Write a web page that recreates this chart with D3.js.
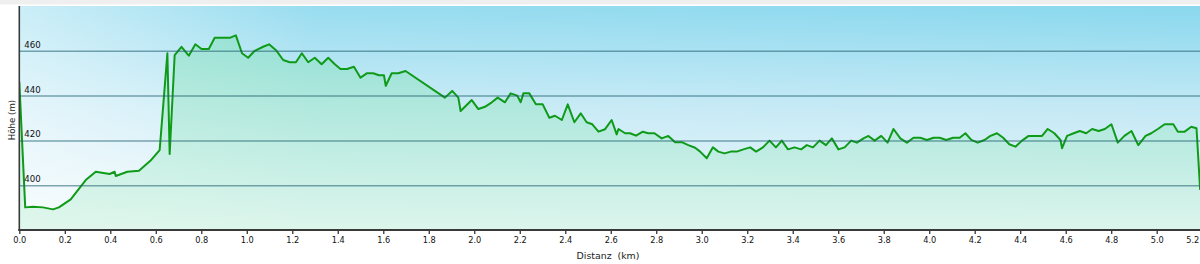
<!DOCTYPE html>
<html>
<head>
<meta charset="utf-8">
<script src="https://cdn.jsdelivr.net/npm/d3@7/dist/d3.min.js"></script>
<style>
  html, body { margin: 0; padding: 0; background: #ffffff; }
  svg { display: block; font-family: "DejaVu Sans", Verdana, sans-serif; }
</style>
</head>
<body>
<svg id="chart" width="1200" height="264"></svg>
<script>
// Distance along the route (km)
const distanceKm = [
  0.000, 0.026, 0.060, 0.104, 0.148, 0.174, 0.226, 0.292, 0.336, 0.397,
  0.419, 0.424, 0.475, 0.526, 0.576, 0.617, 0.651, 0.661, 0.683, 0.713,
  0.745, 0.774, 0.801, 0.833, 0.859, 0.925, 0.952, 0.979, 1.006, 1.035,
  1.072, 1.098, 1.131, 1.160, 1.189, 1.216, 1.242, 1.270, 1.299, 1.329,
  1.358, 1.387, 1.412, 1.441, 1.471, 1.500, 1.529, 1.556, 1.581, 1.603,
  1.611, 1.637, 1.666, 1.698, 1.871, 1.903, 1.930, 1.940, 1.989, 2.018,
  2.047, 2.077, 2.103, 2.135, 2.160, 2.189, 2.204, 2.216, 2.242, 2.271,
  2.301, 2.330, 2.355, 2.385, 2.411, 2.440, 2.468, 2.494, 2.519, 2.546,
  2.575, 2.604, 2.626, 2.634, 2.663, 2.685, 2.711, 2.741, 2.765, 2.792,
  2.824, 2.853, 2.883, 2.912, 2.941, 2.971, 2.993, 3.022, 3.049, 3.073,
  3.100, 3.128, 3.154, 3.183, 3.213, 3.239, 3.269, 3.298, 3.326, 3.352,
  3.379, 3.408, 3.437, 3.462, 3.489, 3.518, 3.546, 3.572, 3.601, 3.628,
  3.657, 3.682, 3.711, 3.733, 3.760, 3.789, 3.817, 3.843, 3.873, 3.902,
  3.931, 3.961, 3.990, 4.019, 4.046, 4.075, 4.105, 4.134, 4.159, 4.185,
  4.213, 4.243, 4.269, 4.298, 4.325, 4.352, 4.379, 4.408, 4.437, 4.467,
  4.496, 4.521, 4.550, 4.577, 4.584, 4.606, 4.635, 4.662, 4.690, 4.716,
  4.745, 4.772, 4.801, 4.829, 4.858, 4.889, 4.919, 4.951, 4.976, 5.005,
  5.035, 5.073, 5.093, 5.123, 5.152, 5.175, 5.191
];

// Elevation (m)
const elevationM = [
  446.2, 390.1, 390.4, 390.1, 389.2, 390.1, 393.7, 402.3, 406.0, 405.0,
  406.0, 404.1, 406.0, 406.5, 410.9, 415.7, 458.9, 413.9, 458.1, 461.8,
  457.8, 462.9, 460.8, 460.8, 465.8, 465.8, 466.9, 458.9, 456.9, 460.0,
  461.8, 462.9, 460.0, 455.9, 454.9, 454.9, 458.9, 454.9, 456.9, 454.0,
  456.9, 454.0, 451.9, 451.9, 452.9, 448.0, 450.0, 450.0, 449.1, 449.1,
  444.4, 450.0, 450.0, 451.0, 439.1, 442.1, 439.1, 433.1, 438.0, 434.0,
  435.0, 437.0, 439.1, 437.0, 441.0, 440.0, 437.0, 441.0, 441.0, 436.1,
  436.1, 430.1, 431.0, 429.1, 436.1, 428.1, 432.1, 428.1, 427.2, 423.9,
  425.0, 429.1, 422.7, 425.1, 423.2, 423.2, 422.1, 423.9, 423.2, 423.2,
  420.9, 422.0, 419.2, 419.2, 417.9, 416.7, 415.0, 412.0, 416.9, 415.0,
  414.2, 415.0, 415.0, 416.0, 416.9, 415.0, 416.9, 419.9, 416.9, 419.9,
  416.0, 416.9, 416.0, 417.9, 416.9, 419.9, 417.9, 420.9, 416.0, 416.9,
  419.9, 419.0, 420.9, 422.0, 419.9, 422.0, 419.0, 425.1, 420.9, 419.0,
  421.2, 421.2, 420.2, 421.2, 421.2, 420.2, 421.2, 421.2, 423.2, 420.2,
  419.0, 420.2, 422.0, 423.2, 421.2, 418.3, 417.2, 419.9, 422.0, 422.0,
  422.0, 425.1, 423.2, 420.2, 416.5, 422.0, 423.2, 424.2, 423.2, 425.1,
  424.2, 425.1, 427.2, 419.0, 422.0, 424.2, 417.9, 422.0, 423.2, 425.1,
  427.2, 427.2, 423.9, 423.9, 426.1, 425.4, 397.9
];

const xTickValues = [0.0, 0.2, 0.4, 0.6, 0.8, 1.0, 1.2, 1.4, 1.6, 1.8, 2.0, 2.2, 2.4,
                     2.6, 2.8, 3.0, 3.2, 3.4, 3.6, 3.8, 4.0, 4.2, 4.4, 4.6, 4.8, 5.0, 5.2];
const yTickValues = [400, 420, 440, 460];
const xTitle = "Distanz  (km)";
const yTitle = "Höhe (m)";

const points = distanceKm.map((d, i) => ({ km: d, m: elevationM[i] }));

const W = 1200, H = 264;
const plotLeft = 19.3, plotTop = 6, plotBottom = 230, plotRight = 1200;

const x = d3.scaleLinear().domain([0, 5.2]).range([19.3, 1202.2]);
const y = d3.scaleLinear().domain([380, 480]).range([plotBottom, plotTop]);

const svg = d3.select("#chart");
const defs = svg.append("defs");

// background gradients
const bg = defs.append("linearGradient").attr("id", "bgGrad")
  .attr("x1", 0).attr("y1", 0).attr("x2", 0).attr("y2", 1);
bg.append("stop").attr("offset", "0%").attr("stop-color", "#8ad8ee");
bg.append("stop").attr("offset", "45%").attr("stop-color", "#c3e9f5");
bg.append("stop").attr("offset", "100%").attr("stop-color", "#f3fafd");

const wl = defs.append("linearGradient").attr("id", "whiteLeft")
  .attr("x1", 0).attr("y1", 0).attr("x2", 1).attr("y2", 0);
wl.append("stop").attr("offset", "0%").attr("stop-color", "#ffffff").attr("stop-opacity", 0.55);
wl.append("stop").attr("offset", "25%").attr("stop-color", "#ffffff").attr("stop-opacity", 0.12);
wl.append("stop").attr("offset", "100%").attr("stop-color", "#ffffff").attr("stop-opacity", 0);

const ag = defs.append("linearGradient").attr("id", "areaGrad")
  .attr("gradientUnits", "userSpaceOnUse")
  .attr("x1", 0).attr("y1", plotTop).attr("x2", 0).attr("y2", plotBottom);
ag.append("stop").attr("offset", "0%").attr("stop-color", "#6ddca6").attr("stop-opacity", 0.42);
ag.append("stop").attr("offset", "100%").attr("stop-color", "#a6eac4").attr("stop-opacity", 0.3);

defs.append("clipPath").attr("id", "plotClip")
  .append("rect").attr("x", plotLeft).attr("y", plotTop)
  .attr("width", plotRight - plotLeft).attr("height", plotBottom - plotTop);

// top strip
svg.append("rect").attr("x", 0).attr("y", 0).attr("width", W).attr("height", 4.5)
  .attr("fill", "#efefef");

// plot background
svg.append("rect").attr("x", plotLeft).attr("y", plotTop)
  .attr("width", plotRight - plotLeft).attr("height", plotBottom - plotTop)
  .attr("fill", "url(#bgGrad)");
svg.append("rect").attr("x", plotLeft).attr("y", plotTop)
  .attr("width", plotRight - plotLeft).attr("height", plotBottom - plotTop)
  .attr("fill", "url(#whiteLeft)");

const plot = svg.append("g").attr("clip-path", "url(#plotClip)");

// area
const area = d3.area().x(d => x(d.km)).y0(plotBottom).y1(d => y(d.m));
plot.append("path").datum(points).attr("d", area).attr("fill", "url(#areaGrad)");

// gridlines
const gridAxis = d3.axisLeft(y).tickValues(yTickValues)
  .tickSize(-(plotRight - plotLeft)).tickFormat("");
const grid = svg.append("g").attr("transform", `translate(${plotLeft},0)`).call(gridAxis);
grid.select(".domain").remove();
grid.selectAll(".tick line").attr("stroke", "#1f5f70").attr("stroke-opacity", 0.55)
  .attr("stroke-width", 1.5);

// line
const line = d3.line().x(d => x(d.km)).y(d => y(d.m));
plot.append("path").datum(points).attr("d", line)
  .attr("fill", "none").attr("stroke", "#0f9a18").attr("stroke-width", 2)
  .attr("stroke-linejoin", "round");

// y labels inside plot
const yLab = d3.axisRight(y).tickValues(yTickValues).tickSize(0).tickPadding(0)
  .tickFormat(d3.format("d"));
const yl = svg.append("g").attr("transform", `translate(${plotLeft + 5},0)`).call(yLab);
yl.select(".domain").remove();
yl.selectAll(".tick text").attr("dy", "-3.5px").attr("fill", "#111")
  .attr("font-size", "8.6px").attr("font-family", "DejaVu Sans, sans-serif");

// left axis line
svg.append("line").attr("x1", plotLeft).attr("x2", plotLeft)
  .attr("y1", plotTop).attr("y2", plotBottom + 1)
  .attr("stroke", "#3a3a3a").attr("stroke-width", 1.6);

// bottom axis
const xAxis = d3.axisBottom(x).tickValues(xTickValues).tickSize(4).tickPadding(3)
  .tickFormat(d3.format(".1f"));
const xa = svg.append("g").attr("transform", `translate(0,${plotBottom})`).call(xAxis);
xa.select(".domain").remove();
xa.selectAll(".tick line").attr("stroke", "#333").attr("stroke-width", 1.3);
xa.selectAll(".tick text").attr("fill", "#111").attr("font-size", "8.2px")
  .attr("font-family", "DejaVu Sans, sans-serif");
xa.selectAll(".tick").filter(d => d === 5.2).select("text").attr("dx", "-10px");
svg.append("line").attr("x1", plotLeft - 1).attr("x2", plotRight)
  .attr("y1", plotBottom).attr("y2", plotBottom)
  .attr("stroke", "#3a3a3a").attr("stroke-width", 2);

// titles
svg.append("text").attr("x", 608).attr("y", 259).attr("text-anchor", "middle")
  .attr("font-size", "9.4px").attr("fill", "#222").attr("xml:space", "preserve")
  .style("white-space", "pre").text(xTitle);
svg.append("text").attr("transform", "translate(14.5,120) rotate(-90)")
  .attr("text-anchor", "middle").attr("font-size", "8.6px").attr("fill", "#222")
  .text(yTitle);
</script>
</body>
</html>
